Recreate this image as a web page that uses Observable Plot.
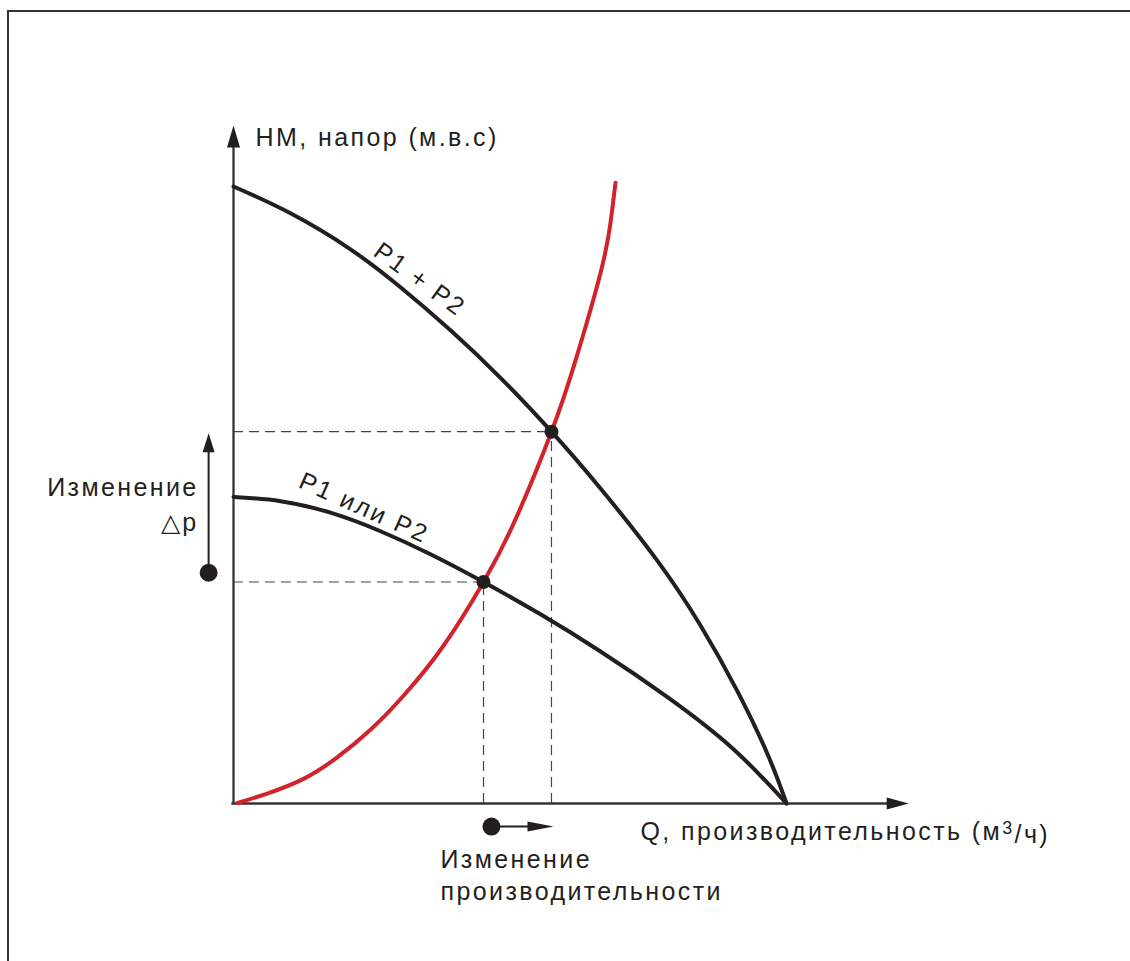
<!DOCTYPE html>
<html>
<head>
<meta charset="utf-8">
<script src="https://cdn.jsdelivr.net/npm/d3@7"></script>
<script src="https://cdn.jsdelivr.net/npm/@observablehq/plot@0.6"></script>
<style>
  html, body { margin: 0; padding: 0; background: #fff; overflow: hidden; }
  #wrap { position: relative; width: 1130px; height: 961px; overflow: hidden; }
  #frame { position: absolute; left: 7px; top: 10px; width: 1200px; height: 1000px;
           border-left: 2px solid #333; border-top: 2px solid #333; pointer-events: none; }
  #wrap svg text { letter-spacing: 2.4px; }
</style>
</head>
<body>
<div id="wrap"><div id="frame"></div></div>
<script>
// ---- data (Q in % of max flow, H in % of max head) ----
const qPump2 = [0, 10.31, 21.16, 30.20, 39.24, 48.28, 57.50, 66.37, 76.67, 84.45, 91.14, 96.75, 100];
const hPump2 = [100, 95.66, 89.82, 83.66, 76.69, 68.99, 60.26, 51.05, 39.32, 28.85, 18.17, 7.62, 0];

const qPump1 = [0, 8.50, 17.54, 26.58, 35.62, 45.21, 55.52, 66.37, 78.48, 90.42, 100];
const hPump1 = [49.68, 49.00, 47.13, 44.13, 40.40, 35.90, 30.66, 24.64, 17.24, 8.80, 0];

const qSystem = [0.72, 5.97, 12.66, 18.81, 24.77, 30.74, 37.97, 45.21, 50.99, 57.50, 61.84, 66.37, 68.17, 69.08];
const hSystem = [0.08, 1.57, 3.99, 7.52, 11.96, 17.47, 25.57, 35.90, 46.04, 60.26, 71.79, 86.00, 94.1, 100.6];

const opQ = [45.21, 57.50];
const opH = [35.90, 60.26];

const axisEndQ = 122.1, axisEndH = 109.9;
const axisShaftQ = 119.5, axisShaftH = 107.5;

const dpArrow = {q: -4.5, from: 37.4, shaft: 57.5, to: 60.0};
const dqArrow = {h: -3.73, from: 46.65, shaft: 54.0, to: 57.87};

const labelY = "HM, напор (м.в.с)";
const labelX = "Q, производительность (м³/ч)";
const labelDq = "Изменение\nпроизводительности";
const labelDp = "Изменение\n△p";
const labelPump2 = "P1 + P2";
const labelPump1 = "P1 или P2";

// ---- build tables ----
const zip = (qs, hs) => qs.map((q, i) => ({q, h: hs[i]}));
const pump2 = zip(qPump2, hPump2);
const pump1 = zip(qPump1, hPump1);
const system = zip(qSystem, hSystem);
const ops = zip(opQ, opH);

const tri = (len, half, dir) => ({
  draw(ctx) {
    if (dir === "up") { ctx.moveTo(0, 0); ctx.lineTo(-half, len); ctx.lineTo(half, len); }
    else { ctx.moveTo(0, 0); ctx.lineTo(-len, -half); ctx.lineTo(-len, half); }
    ctx.closePath();
  }
});

const ink = "#231f20";
const red = "#d3222a";

const chart = Plot.plot({
  width: 1130, height: 961,
  marginLeft: 233, marginRight: 344, marginTop: 186, marginBottom: 158,
  x: {domain: [0, 100], axis: null},
  y: {domain: [0, 100], axis: null},
  style: {fontFamily: "'Liberation Sans', Arial, sans-serif", background: "transparent", overflow: "visible", color: ink},
  marks: [
    // dashed guides
    Plot.ruleY(ops, {y: "h", x1: 0, x2: "q", stroke: "#444", strokeWidth: 1.2, strokeDasharray: "10,6"}),
    Plot.ruleX(ops, {x: "q", y1: 0, y2: "h", stroke: "#444", strokeWidth: 1.2, strokeDasharray: "10,6"}),
    // axes
    Plot.ruleY([{h: 0}], {y: "h", x1: -0.3, x2: axisShaftQ, stroke: "#333", strokeWidth: 2.3}),
    Plot.ruleX([{q: 0}], {x: "q", y1: -0.2, y2: axisShaftH, stroke: "#333", strokeWidth: 2.3}),
    Plot.dot([{q: axisEndQ, h: 0}], {x: "q", y: "h", symbol: tri(22, 6, "right"), fill: ink, stroke: null}),
    Plot.dot([{q: 0, h: axisEndH}], {x: "q", y: "h", symbol: tri(22, 6.5, "up"), fill: ink, stroke: null}),
    // pump curves
    Plot.line(pump2, {x: "q", y: "h", curve: "natural", stroke: ink, strokeWidth: 4}),
    Plot.line(pump1, {x: "q", y: "h", curve: "natural", stroke: ink, strokeWidth: 4}),
    // system curve
    Plot.line(system, {x: "q", y: "h", curve: "natural", stroke: red, strokeWidth: 4}),
    // operating points
    Plot.dot(ops, {x: "q", y: "h", r: 7, fill: ink, stroke: null}),
    // Δp arrow
    Plot.ruleX([dpArrow], {x: "q", y1: "from", y2: "shaft", stroke: ink, strokeWidth: 2}),
    Plot.dot([dpArrow], {x: "q", y: "from", r: 9, fill: ink, stroke: null}),
    Plot.dot([dpArrow], {x: "q", y: "to", symbol: tri(19, 6, "up"), fill: ink, stroke: null}),
    // ΔQ arrow
    Plot.ruleY([dqArrow], {y: "h", x1: "from", x2: "shaft", stroke: ink, strokeWidth: 2}),
    Plot.dot([dqArrow], {x: "from", y: "h", r: 9, fill: ink, stroke: null}),
    Plot.dot([dqArrow], {x: "to", y: "h", symbol: tri(26, 5, "right"), fill: ink, stroke: null}),
    // labels
    Plot.text([{t: labelY, q: 4.0, h: 109.4}], {x: "q", y: "h", text: "t", textAnchor: "start", lineAnchor: "top", fontSize: 25, fill: ink}),
    Plot.text([{t: labelX, q: 73.6, h: -3.08}], {x: "q", y: "h", text: "t", textAnchor: "start", lineAnchor: "top", fontSize: 25, fill: ink}),
    Plot.text([{t: labelDq, q: 37.43, h: -6.81}], {x: "q", y: "h", text: "t", textAnchor: "start", lineAnchor: "top", lineHeight: 1.28, fontSize: 25, fill: ink}),
    Plot.text([{t: labelDp, q: -6.3, h: 53.8}], {x: "q", y: "h", text: "t", textAnchor: "end", lineAnchor: "top", lineHeight: 1.4, fontSize: 25, fill: ink}),
    Plot.text([{t: labelPump2, q: 33.7, h: 84.9}], {x: "q", y: "h", text: "t", rotate: 36, textAnchor: "middle", lineAnchor: "middle", fontSize: 25, fill: ink}),
    Plot.text([{t: labelPump1, q: 23.6, h: 47.9}], {x: "q", y: "h", text: "t", rotate: 24, textAnchor: "middle", lineAnchor: "middle", fontSize: 25, fill: ink})
  ]
});
document.getElementById("wrap").prepend(chart);
chart.style.position = "absolute";
chart.style.left = "0";
chart.style.top = "0";

// render the ³ of the x label as a real superscript tspan
d3.select(chart).selectAll("text").each(function () {
  const el = d3.select(this);
  const s = this.textContent;
  const i = s.indexOf("³");
  if (i < 0 || this.querySelector("tspan")) return;
  el.text(null);
  el.append("tspan").text(s.slice(0, i));
  el.append("tspan").attr("dy", "-0.36em").attr("font-size", 18).text("3");
  el.append("tspan").attr("dy", "0.36em").text(s.slice(i + 1));
});
</script>
</body>
</html>
